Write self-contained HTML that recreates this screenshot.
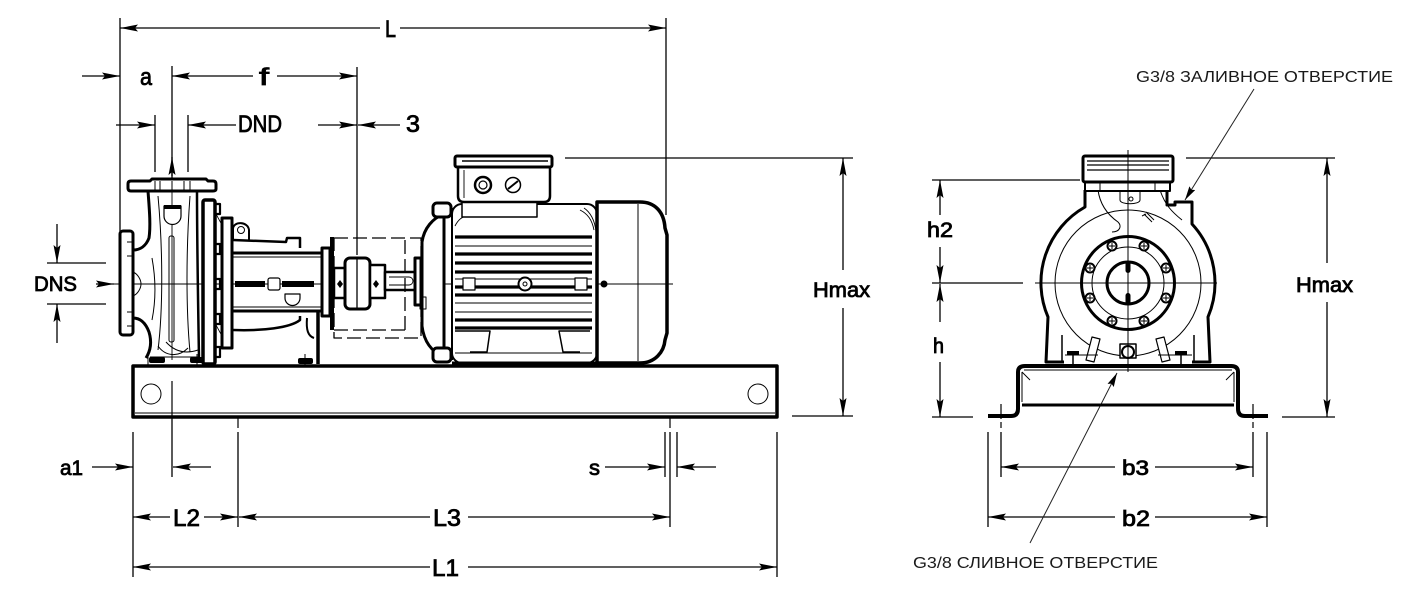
<!DOCTYPE html>
<html><head><meta charset="utf-8"><style>
html,body{margin:0;padding:0;background:#fff;}
svg{display:block;}
.t{font-family:"Liberation Sans",sans-serif;fill:#000;stroke:#000;stroke-width:0.8;}
.g{font-family:"Liberation Sans","Noto Sans CJK SC",sans-serif;fill:#1a1a1a;font-size:15.5px;}
</style></head><body>
<svg width="1414" height="591" viewBox="0 0 1414 591" xmlns="http://www.w3.org/2000/svg">
<defs>
<marker id="a" viewBox="0 0 18 7" refX="18" refY="3.5" markerWidth="18" markerHeight="7" orient="auto" markerUnits="userSpaceOnUse"><path d="M0,0 L18,3.5 L0,7 L3,3.5 Z" fill="#000"/></marker>
<marker id="b" viewBox="0 0 14 7" refX="14" refY="3.5" markerWidth="14" markerHeight="7" orient="auto" markerUnits="userSpaceOnUse"><path d="M0,0 L14,3.5 L0,7 L2,3.5 Z" fill="#000"/></marker>
</defs>
<rect width="1414" height="591" fill="#fff"/>

<!-- extension lines -->
<g stroke="#000" stroke-width="1.3" fill="none">
<path d="M120,18V232 M666,18V215 M172,66V178 M357,67V255 M155,115V172 M188,115V172"/>
<path d="M565,158H853 M792,416H853 M47,263H106 M47,304H106"/>
<path d="M133,432V577 M172,381V477 M238,432V527 M670,432V527 M777,432V577 M665,432V477 M677,432V477"/>
<path d="M932,180H1080 M932,283H1023 M932,417H973 M1186,158H1335 M1282,417H1335"/>
<path d="M988,432V527 M1267,432V527 M1001,432V477 M1253,432V477"/>
</g>
<g stroke="#000" stroke-width="1.2" fill="none" stroke-dasharray="10,3,2,3">
<path d="M238,400V428 M670,400V428 M1001,404V428 M1253,404V428"/>
</g>
<g stroke="#000" stroke-width="1" fill="none" stroke-dasharray="6,3">
<path d="M471,346V372 M578,346V372"/>
</g>
<g stroke="#000" stroke-width="1" fill="none">
<path d="M148,354V372 M197,354V372 M305,354V372"/>
</g>

<!-- arrowed dimension lines -->
<g stroke="#000" stroke-width="1.3" fill="none" marker-end="url(#a)">
<path d="M380,28H120"/><path d="M400,28H666"/>
<path d="M82,76H120"/><path d="M253,76H172"/><path d="M277,76H357"/>
<path d="M116,125H155"/><path d="M236,125H188"/><path d="M318,125H357"/><path d="M400,125H358"/>
<path d="M172,176V157"/>
<path d="M843,270V158"/><path d="M843,308V416"/>
<path d="M57,224V263"/><path d="M57,343V304"/>
<path d="M96,284H114"/>
<path d="M92,467H133"/><path d="M211,467H173"/>
<path d="M170,517H133"/><path d="M204,517H238"/><path d="M430,517H239"/><path d="M468,517H670"/>
<path d="M430,567H133"/><path d="M468,567H777"/>
<path d="M605,467H665"/><path d="M716,467H677"/>
<path d="M940,215V180"/><path d="M940,247V283"/><path d="M940,322V284"/><path d="M940,362V417"/>
<path d="M1327,263V158"/><path d="M1327,302V417"/>
<path d="M1115,467H1001"/><path d="M1155,467H1253"/>
<path d="M1115,517H988"/><path d="M1155,517H1267"/>
</g>
<!-- leaders -->
<g stroke="#222" stroke-width="1" fill="none" marker-end="url(#b)">
<path d="M1254,89L1185,200"/>
<path d="M1030,543L1117,373"/>
</g>

<!-- ================= LEFT VIEW ================= -->
<g stroke="#000" fill="none" stroke-linejoin="round">
<path d="M114,284H673" stroke-width="1"/>
<path d="M172,178V360" stroke-width="0.9"/>

<rect x="133" y="366" width="644" height="51" stroke-width="3.5" fill="#fff"/>
<line x1="135" y1="413" x2="775" y2="413" stroke-width="1"/>
<circle cx="151" cy="394" r="10" stroke-width="1"/>
<circle cx="758" cy="394" r="10" stroke-width="1"/>
<path d="M172,381V416" stroke-width="1.2"/>

<rect x="120" y="231" width="13" height="104" rx="3" stroke-width="3" fill="#fff"/>
<path d="M133,272C138,274 141,280 141,284C141,288 138,294 133,296" stroke-width="1"/>
<path d="M127,242H133 M127,256H133 M127,312H133 M127,326H133" stroke-width="1"/>
<path d="M133,250C140,250 146,246 149,238C151,225 149,205 148,191" stroke-width="3"/>
<path d="M133,318C141,318 146,324 149,332C152,342 151,350 146,358" stroke-width="3"/>
<path d="M197,191C197,240 198,300 199,358" stroke-width="2.5"/>
<path d="M158,196C163,250 163,310 158,350" stroke-width="1"/>
<path d="M190,196C186,250 186,310 190,352" stroke-width="1"/>
<path d="M152,258C156,280 156,300 152,320" stroke-width="1"/>
<rect x="169" y="236" width="5" height="106" rx="2" stroke-width="1"/>
<path d="M164,206H181V216A8.5,8.5 0 0 1 164,216Z" stroke-width="1.2" fill="#fff"/>
<rect x="164" y="205" width="17" height="4" fill="#000" stroke="none"/>
<path d="M166,342C175,352 186,354 198,350 M158,346C165,356 178,358 188,348" stroke-width="1"/>
<path d="M150,357H199" stroke-width="1"/>
<path d="M128,184Q128,181 131,181L150,181L152,179L206,179L208,181L213,181Q216,181 216,184L216,189Q216,191 213,191L131,191Q128,191 128,188Z" stroke-width="3" fill="#fff"/>
<path d="M155,181V191 M160,181V191 M172,181V191 M184,181V191 M190,181V191" stroke-width="1"/>
<rect x="149" y="357" width="16" height="6" rx="2" fill="#000" stroke="none"/>
<rect x="190" y="357" width="16" height="6" rx="2" fill="#000" stroke="none"/>
<rect x="298" y="358" width="15" height="6" rx="2" fill="#000" stroke="none"/>

<rect x="203" y="200" width="12" height="164" rx="2" stroke-width="3.5" fill="#fff"/>
<path d="M215,204h5v10h-5 M215,244h5v10h-5 M215,279h5v10h-5 M215,314h5v10h-5 M215,347h5v10h-5" stroke-width="2.2"/>
<path d="M216,214L222,225 M216,325L222,336" stroke-width="0.8"/>
<rect x="222" y="218" width="10" height="130" stroke-width="3" fill="#fff"/>
<path d="M233,240V229C233,221 248,221 249,230V240" stroke-width="2"/>
<circle cx="241" cy="230" r="3.5" stroke-width="1"/>
<path d="M233,240L286,242L287,238L300,238L300,248" stroke-width="2.5"/>
<path d="M233,330C262,331 290,328 300,320L300,316" stroke-width="2.5"/>
<path d="M233,253H322 M233,311H322" stroke-width="3"/>
<path d="M233,257H322 M233,307H322" stroke-width="0.9"/>
<rect x="235" y="281" width="30" height="6" fill="#000" stroke="none"/>
<rect x="282" y="281" width="32" height="6" fill="#000" stroke="none"/>
<rect x="268" y="278" width="12" height="12" rx="2" stroke-width="1.2" fill="#fff"/>
<path d="M285,294H300V298A7.5,7.5 0 0 1 285,298Z" stroke-width="1.2"/>
<path d="M318,312V364" stroke-width="3.5"/>
<path d="M307,318C306,330 308,336 314,338" stroke-width="2"/>
<rect x="322" y="248" width="8" height="68" stroke-width="3" fill="#fff"/>
<rect x="330" y="237" width="4" height="93" fill="#000" stroke="none"/>
<rect x="334" y="268" width="12" height="30" stroke-width="2.5" fill="#fff"/>
<rect x="345" y="258" width="25" height="51" rx="5" stroke-width="3" fill="#fff"/>
<rect x="370" y="265" width="15" height="33" stroke-width="2.5" fill="#fff"/>
<rect x="385" y="272" width="31" height="18" stroke-width="2.5" fill="#fff"/>
<path d="M389,277H409A4,4 0 0 1 409,285H389" stroke-width="0.9"/>
<path d="M357,258V309" stroke-width="1.3"/>
<path d="M340,280l3,4l-3,4l-3,-4Z M376,280l3,4l-3,4l-3,-4Z" fill="#000" stroke="none"/>
<g stroke-width="1.3" stroke-dasharray="14,5">
<rect x="334" y="238" width="87" height="100"/>
<path d="M405,240V330 M334,330H405"/>
</g>

<rect x="415" y="258" width="6" height="47" stroke-width="3" fill="#fff"/>
<path d="M444,214C433,218 424,228 422,242L422,326C424,342 432,352 444,357" stroke-width="3" fill="#fff"/>
<rect x="420" y="297" width="6" height="12" stroke-width="1"/>
<rect x="452" y="204" width="145" height="159" rx="10" stroke-width="2" fill="#fff"/>
<path d="M444,208V360" stroke-width="3"/>
<path d="M452,208V360" stroke-width="2"/>
<rect x="433" y="203" width="18" height="14" rx="4" stroke-width="3" fill="#fff"/>
<rect x="433" y="348" width="18" height="14" rx="4" stroke-width="3" fill="#fff"/>
<g stroke-width="3.2">
<path d="M455,237H592 M455,254H592 M455,263H592 M455,272H592 M455,287H592 M455,295H592 M455,320H592 M455,328H592"/>
</g>
<g stroke-width="1.1">
<path d="M455,246H592 M455,303H592 M455,312H592 M455,279H592"/>
</g>
<path d="M580,210C588,214 592,220 594,230 M584,208C590,212 595,220 596,232 M455,226C458,220 462,216 470,215" stroke-width="0.9"/>
<path d="M455,331H490L487,352H470 M590,331H559L563,352H580" stroke-width="1.5"/>
<path d="M455,353H592" stroke-width="1"/>
<path d="M452,363H597" stroke-width="3"/>
<rect x="463" y="278" width="12" height="12" stroke-width="1.2" fill="#fff"/>
<rect x="575" y="278" width="12" height="12" stroke-width="1.2" fill="#fff"/>
<circle cx="525" cy="284" r="6.5" stroke-width="2" fill="#fff"/>
<circle cx="525" cy="284" r="2" stroke-width="1"/>
<path d="M462,202V217H537V202" stroke-width="1.5" fill="#fff"/>
<path d="M458,167V196Q458,202 464,202H544Q550,202 550,196V167" stroke-width="2.5" fill="#fff"/>
<rect x="455" y="156" width="97" height="11" rx="2" stroke-width="3" fill="#fff"/>
<path d="M462,161H548" stroke-width="1.5"/>
<path d="M464,170V198" stroke-width="0.9"/>
<circle cx="483" cy="185" r="8" stroke-width="2.5" fill="#fff"/>
<circle cx="483" cy="185" r="4" stroke-width="1.2"/>
<circle cx="513" cy="185" r="7.5" stroke-width="1.5" fill="#fff"/>
<path d="M508,189L518,181" stroke-width="2"/>
<path d="M597,202L640,202C655,202 664,212 665,228L667,235L667,333L665,340C664,352 655,363 640,363L597,363Z" stroke-width="3.5" fill="#fff"/>
<path d="M638,204V361" stroke-width="1"/>
<path d="M597,284H673" stroke-width="1"/>
<circle cx="604" cy="284" r="3.5" fill="#000" stroke="none"/>
</g>

<!-- ================= FRONT VIEW ================= -->
<g stroke="#000" fill="none" stroke-linejoin="round">
<path d="M988,416L1011,416Q1018,416 1018,409L1018,372Q1018,366 1025,366L1231,366Q1238,366 1238,372L1238,409Q1238,416 1245,416L1268,416" stroke-width="4"/>
<path d="M1022,405H1234" stroke-width="3"/>
<path d="M1024,370H1232" stroke-width="1"/>
<path d="M1022,372V402 M1234,372V402" stroke-width="1"/>
<path d="M1022,372L1030,380 M1234,372L1226,380" stroke-width="0.9"/>
<path d="M1085,190L1085,207A87,87 0 0 0 1048,317L1046,362L1064,362" stroke-width="3" fill="#fff"/>
<path d="M1167,190L1167,205L1175,205L1175,202L1192,202L1192,224A87,87 0 0 1 1208,317L1210,362L1192,362" stroke-width="3"/>
<path d="M1062,362V335 M1194,362V335" stroke-width="1.5"/>
<circle cx="1128" cy="283" r="73" stroke-width="1"/>
<path d="M1098,190C1100,205 1108,215 1118,222C1122,226 1120,232 1112,232" stroke-width="1"/>
<path d="M1160,190C1165,205 1172,212 1182,220" stroke-width="1"/>
<path d="M1120,190V200C1120,205 1140,205 1140,200V190" stroke-width="1"/>
<circle cx="1131" cy="199" r="2" stroke-width="1"/>
<path d="M1144,214L1152,222M1146,212L1154,220M1142,216L1146,214" stroke-width="1"/>
<path d="M1092,337L1100,339L1094,362L1086,360Z M1164,337L1156,339L1162,362L1170,360Z" stroke-width="1.2" fill="#fff"/>
<path d="M1065,355H1098 M1158,355H1192" stroke-width="1"/>
<path d="M1067,351h12v4h-12z M1175,351h12v4h-12z" fill="#000" stroke="none"/>
<path d="M1073,355V364 M1181,355V364" stroke-width="1.5"/>
<circle cx="1128" cy="283" r="46.5" stroke-width="3" fill="#fff"/>
<circle cx="1128" cy="283" r="36" stroke-width="1"/>
<circle cx="1128" cy="283" r="21" stroke-width="3" fill="#fff"/>
<rect x="1125.5" y="262" width="5" height="11" rx="2.5" fill="#000" stroke="none"/>
<rect x="1125.5" y="293" width="5" height="11" rx="2.5" fill="#000" stroke="none"/>
<g stroke-width="2">
<circle cx="1112" cy="246" r="4.5"/><circle cx="1144" cy="246" r="4.5"/>
<circle cx="1090" cy="268" r="4.5"/><circle cx="1166" cy="268" r="4.5"/>
<circle cx="1090" cy="298" r="4.5"/><circle cx="1166" cy="298" r="4.5"/>
<circle cx="1112" cy="321" r="4.5"/><circle cx="1144" cy="321" r="4.5"/>
</g>
<g stroke-width="1">
<path d="M1109,246h6M1112,243v6 M1141,246h6M1144,243v6 M1087,268h6M1090,265v6 M1163,268h6M1166,265v6 M1087,298h6M1090,295v6 M1163,298h6M1166,295v6 M1109,321h6M1112,318v6 M1141,321h6M1144,318v6"/>
</g>
<path d="M1120,344h16v14h-16z" stroke-width="1.5" fill="#fff"/>
<circle cx="1128" cy="352" r="6" stroke-width="2"/>
<rect x="1085" y="181" width="85" height="10" stroke-width="2" fill="#fff"/>
<path d="M1100,181V191 M1155,181V191" stroke-width="1"/>
<rect x="1083" y="156" width="90" height="26" rx="2" stroke-width="3" fill="#fff"/>
<path d="M1087,161H1169 M1087,165H1169 M1087,170H1169" stroke-width="1.2"/>
<path d="M1128,150V372 M1035,283H1217" stroke-width="1"/>
</g>

<!-- ================= TEXT ================= -->
<text class="t" x="385" y="37" font-size="24" textLength="11" lengthAdjust="spacingAndGlyphs">L</text>
<text class="t" x="140" y="85" font-size="24" textLength="12" lengthAdjust="spacingAndGlyphs">a</text>
<text class="t" x="259" y="85" font-size="24" textLength="10" lengthAdjust="spacingAndGlyphs">f</text>
<text class="t" x="238" y="132" font-size="24" textLength="44" lengthAdjust="spacingAndGlyphs">DND</text>
<text class="t" x="406" y="132" font-size="24" textLength="14" lengthAdjust="spacingAndGlyphs">3</text>
<text class="t" x="34" y="291" font-size="21" textLength="43" lengthAdjust="spacingAndGlyphs">DNS</text>
<text class="t" x="813" y="297" font-size="21" textLength="57" lengthAdjust="spacingAndGlyphs">Hmax</text>
<text class="t" x="60" y="475" font-size="21" textLength="23" lengthAdjust="spacingAndGlyphs">a1</text>
<text class="t" x="173" y="526" font-size="24" textLength="27" lengthAdjust="spacingAndGlyphs">L2</text>
<text class="t" x="433" y="526" font-size="24" textLength="28" lengthAdjust="spacingAndGlyphs">L3</text>
<text class="t" x="432" y="576" font-size="24" textLength="27" lengthAdjust="spacingAndGlyphs">L1</text>
<text class="t" x="589" y="475" font-size="21" textLength="11" lengthAdjust="spacingAndGlyphs">s</text>
<text class="t" x="927" y="237" font-size="21" textLength="26" lengthAdjust="spacingAndGlyphs">h2</text>
<text class="t" x="933" y="353" font-size="21" textLength="11" lengthAdjust="spacingAndGlyphs">h</text>
<text class="t" x="1296" y="292" font-size="21" textLength="57" lengthAdjust="spacingAndGlyphs">Hmax</text>
<text class="t" x="1122" y="475" font-size="21" textLength="27" lengthAdjust="spacingAndGlyphs">b3</text>
<text class="t" x="1122" y="526" font-size="22" textLength="28" lengthAdjust="spacingAndGlyphs">b2</text>
<text class="g" x="1136" y="82" textLength="257" lengthAdjust="spacingAndGlyphs">G3/8 ЗАЛИВНОЕ ОТВЕРСТИЕ</text>
<text class="g" x="913" y="568" textLength="245" lengthAdjust="spacingAndGlyphs">G3/8 СЛИВНОЕ ОТВЕРСТИЕ</text>
</svg>
</body></html>
